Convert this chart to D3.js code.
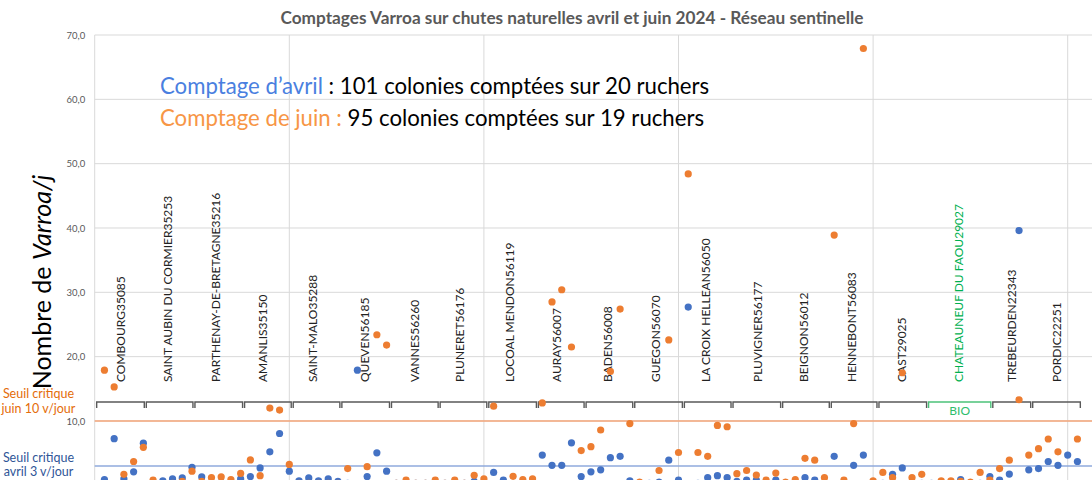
<!DOCTYPE html>
<html><head><meta charset="utf-8">
<script src="https://cdn.jsdelivr.net/npm/d3@7/dist/d3.min.js"></script>
<style>body{margin:0;background:#fff}svg{display:block;font-family:Lato,"Open Sans",sans-serif}</style>
</head><body><svg id="c" width="1092" height="480"></svg>
<script>
// Varroa/jour, one value per colony (colony 1..101), April
const avril = [0.9,7.25,1.0,2.1,6.55, 0.3,0.7,1.0,1.15,2.8, 1.3,0.4,0.5,0.3,1.0, 1.35,2.7,5.2,8.05,2.2,
  0.7,1.15,0.7,1.0,0.6, 0.3,17.9,1.35,5.05,2.2, 0.3,0.3,0.3,0.3,0.3, 0.3,0.3,0.3,0.6,0.3,
  2.0,0.8,0.3,0.3,0.3, 4.7,3.1,3.1,6.6,1.35, 2.1,2.4,4.3,4.5,0.7, 0.3,0.3,0.5,3.9,0.8,
  27.7,0.3,1.2,1.5,1.2, 0.6,0.8,0.8,0.3,0.8, 0.3,0.3,1.2,0.8,0.3, 4.5,0.3,3.1,4.7,0.3,
  0.3,1.7,2.7,0.3,0.3, 0.3,0.3,0.3,0.9,0.3, 0.3,1.35,0.8,1.75,39.6, 2.4,2.6,3.7,3.1,4.7, 3.7];
// June (null = colony not counted)
const juin = [17.9,15.3,1.7,3.7,5.9, 0.8,null,0.3,0.6,2.2, 0.6,1.2,1.3,0.9,1.85, 3.95,1.5,12.0,11.7,3.25,
  0.3,0.3,0.3,0.3,0.3, 2.6,null,2.9,23.4,21.8, 0.3,0.8,0.3,0.3,0.8, 0.3,0.8,0.3,1.55,1.0,
  12.3,null,1.4,0.9,1.0, 12.8,28.5,30.4,21.5,5.4, 6.0,8.6,17.7,27.4,9.6, 0.5,null,2.3,22.6,5.1,
  48.4,5.1,4.5,9.3,9.1, 1.8,2.3,1.6,0.8,1.9, 0.5,0.9,4.2,3.9,1.2, 38.9,0.8,9.6,67.9,0.7,
  2.0,1.2,17.5,1.2,1.7, null,0.7,0.7,0.6,0.5, 2.0,0.8,2.6,3.9,13.3, 4.7,5.7,7.2,5.2,null, 7.2];
const ruchers = ["COMBOURG35085","SAINT AUBIN DU CORMIER35253","PARTHENAY-DE-BRETAGNE35216","AMANLIS35150",
  "SAINT-MALO35288","QUEVEN56185","VANNES56260","PLUNERET56176","LOCOAL MENDON56119","AURAY56007",
  "BADEN56008","GUEGON56070","LA CROIX HELLEAN56050","PLUVIGNER56177","BEIGNON56012","HENNEBONT56083",
  "CAST29025","CHATEAUNEUF DU FAOU29027","TREBEURDEN22343","PORDIC22251"];
const labelPos = [2.7,7.5,12.4,17.3,22.4,27.8,32.9,37.5,42.7,47.5,52.7,57.7,62.8,68.1,72.9,77.8,82.9,88.8,94.3,98.9];
const groupBounds = [0.1,5.2,10.2,15.3,20.3,25.3,30.4,35.4,40.4,45.5,50.4,55.4,60.5,65.5,70.6,75.6,80.5,85.6,92.2,96.3,101.4];
const bioIndex = 17;
const yTicks = [10,20,30,40,50,60,70];
const xGrid = [0,20,40,60,80,100];
const seuilJuin = 10, seuilAvril = 3;
const title = "Comptages Varroa sur chutes naturelles avril et juin 2024 - Réseau sentinelle";

const svg = d3.select("#c");
const x = d3.scaleLinear().domain([0,110]).range([94.7, 94.7+110*9.73]);
const y = d3.scaleLinear().domain([0,70]).range([485.3, 35]);
const W = 1092;

// gridlines
svg.append("g").selectAll("line").data(yTicks).join("line")
  .attr("x1", x(0)).attr("x2", W).attr("y1", d=>y(d)).attr("y2", d=>y(d))
  .attr("stroke","#d9d9d9").attr("stroke-width",1);
svg.append("g").selectAll("line").data(xGrid).join("line")
  .attr("x1", d=>x(d)).attr("x2", d=>x(d)).attr("y1", y(70)).attr("y2", 480)
  .attr("stroke","#d9d9d9").attr("stroke-width",1);

// y axis labels
const ax = svg.append("g").attr("transform",`translate(${x(0)},0)`)
  .call(d3.axisLeft(y).tickValues(yTicks).tickSize(0).tickPadding(9.5)
    .tickFormat(d => d.toFixed(1).replace(".",",")));
ax.select(".domain").remove();
ax.selectAll("text").attr("fill","#595959").style("font-size","9.5px").style("font-family","Lato");

// thresholds
svg.append("line").attr("x1",x(0)).attr("x2",W).attr("y1",y(seuilJuin)).attr("y2",y(seuilJuin))
  .attr("stroke","#F4A67A").attr("stroke-width",1.5);
svg.append("line").attr("x1",x(0)).attr("x2",W).attr("y1",y(seuilAvril)).attr("y2",y(seuilAvril))
  .attr("stroke","#8FAADC").attr("stroke-width",1.5);

// brackets
const br = svg.append("g");
for (let i=0;i<groupBounds.length-1;i++){
  const x1 = x(groupBounds[i])+1, x2 = x(groupBounds[i+1])-1;
  const col = i===bioIndex ? "#4CC27A" : "#595959";
  br.append("path").attr("d",`M${x1},408 V402 H${x2} V408`).attr("fill","none")
    .attr("stroke",col).attr("stroke-width",1.4);
}
svg.append("text").attr("x", x((groupBounds[bioIndex]+groupBounds[bioIndex+1])/2)).attr("y",415)
  .attr("text-anchor","middle").attr("fill","#2EBD6B").style("font-size","12px").text("BIO");

// rucher labels
svg.append("g").selectAll("text").data(ruchers).join("text")
  .attr("transform",(d,i)=>`translate(${x(labelPos[i])},382) rotate(-90)`)
  .attr("dy","0.35em").attr("fill",(d,i)=> i===bioIndex ? "#00B050" : "#222")
  .style("font-size","12px").text(d=>d);

// dots
const pts = (arr)=>arr.map((v,i)=>({i:i+1,v})).filter(d=>d.v!==null);
svg.append("g").selectAll("circle").data(pts(avril)).join("circle")
  .attr("cx",d=>x(d.i)).attr("cy",d=>y(d.v)).attr("r",3.6).attr("fill","#4472C4");
svg.append("g").selectAll("circle").data(pts(juin)).join("circle")
  .attr("cx",d=>x(d.i)).attr("cy",d=>y(d.v)).attr("r",3.6).attr("fill","#ED7D31");

// title
svg.append("text").attr("x",572).attr("y",24).attr("text-anchor","middle")
  .attr("fill","#595959").style("font-size","16.5px").style("font-weight","bold")
  .attr("textLength",583).attr("lengthAdjust","spacingAndGlyphs").text(title);

// y axis title
const yt = svg.append("text").attr("transform","translate(51,282) rotate(-90)")
  .attr("text-anchor","middle").style("font-size","25px").attr("fill","#000");
yt.append("tspan").text("Nombre de ");
yt.append("tspan").style("font-style","italic").text("Varroa/j");

// annotation
const a1 = svg.append("text").attr("x",160).attr("y",94).style("font-size","22.2px");
a1.append("tspan").attr("fill","#4A7FE0").text("Comptage d’avril");
a1.append("tspan").attr("fill","#000").text(" : 101 colonies comptées sur 20 ruchers");
const a2 = svg.append("text").attr("x",160).attr("y",126).style("font-size","22.2px");
a2.append("tspan").attr("fill","#F79646").text("Comptage de juin :");
a2.append("tspan").attr("fill","#000").text(" 95 colonies comptées sur 19 ruchers");

// threshold labels
const s1 = svg.append("text").attr("text-anchor","middle").attr("fill","#E46C0A").style("font-size","12.5px");
s1.append("tspan").attr("x",38.5).attr("y",398).text("Seuil critique");
s1.append("tspan").attr("x",38.5).attr("y",412.5).text("juin 10 v/jour");
const s2 = svg.append("text").attr("text-anchor","middle").attr("fill","#2F5597").style("font-size","12.5px");
s2.append("tspan").attr("x",38.5).attr("y",461.5).text("Seuil critique");
s2.append("tspan").attr("x",38.5).attr("y",475.5).text("avril 3 v/jour");
</script></body></html>
